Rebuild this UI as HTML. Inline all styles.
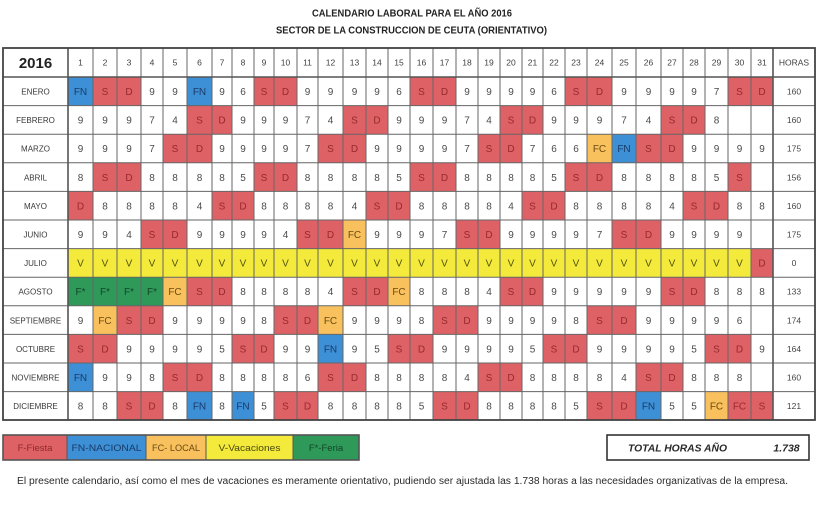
<!DOCTYPE html>
<html><head><meta charset="utf-8">
<style>
html,body{margin:0;padding:0;background:#fff;}
svg{display:block;font-family:"Liberation Sans",sans-serif;}
text{font-size:10px;text-anchor:middle;fill:#4a4a4a;}
text.m{font-size:8px;fill:#383838;}
text.h{font-size:8.5px;fill:#444;}
text.d{font-size:8.5px;fill:#404040;}
text.r{fill:#962a2d;}
text.b{fill:#1b3a66;}
text.o{fill:#6b4a12;}
text.y{fill:#55550f;}
text.g{fill:#124626;}
rect.r{fill:#de6165;}
rect.b{fill:#3d90d6;}
rect.o{fill:#f8c15d;}
rect.y{fill:#f4ea3b;}
rect.g{fill:#2f995a;}
</style></head><body>
<svg width="818" height="506" viewBox="0 0 818 506" xmlns="http://www.w3.org/2000/svg">
<rect x="0" y="0" width="818" height="506" fill="#fff"/>
<text x="412" y="16.5" style="font-size:10px;font-weight:bold;fill:#222" textLength="200" lengthAdjust="spacingAndGlyphs">CALENDARIO LABORAL PARA EL AÑO 2016</text>
<text x="411.5" y="33.5" style="font-size:10px;font-weight:bold;fill:#222" textLength="271" lengthAdjust="spacingAndGlyphs">SECTOR DE LA CONSTRUCCION DE CEUTA (ORIENTATIVO)</text>

<!-- header -->
<g transform="translate(0,48)">
<text x="35.5" y="20" style="font-size:15px;font-weight:bold;fill:#222">2016</text>
<text class="d" x="80.5" y="17.5">1</text><text class="d" x="105" y="17.5">2</text><text class="d" x="129" y="17.5">3</text><text class="d" x="152" y="17.5">4</text><text class="d" x="175" y="17.5">5</text><text class="d" x="199.5" y="17.5">6</text><text class="d" x="222" y="17.5">7</text><text class="d" x="243" y="17.5">8</text><text class="d" x="264" y="17.5">9</text><text class="d" x="285.5" y="17.5">10</text><text class="d" x="307.5" y="17.5">11</text><text class="d" x="330.5" y="17.5">12</text><text class="d" x="354.5" y="17.5">13</text><text class="d" x="377" y="17.5">14</text><text class="d" x="399" y="17.5">15</text><text class="d" x="421.5" y="17.5">16</text><text class="d" x="444.5" y="17.5">17</text><text class="d" x="467" y="17.5">18</text><text class="d" x="489" y="17.5">19</text><text class="d" x="511" y="17.5">20</text><text class="d" x="532.5" y="17.5">21</text><text class="d" x="554" y="17.5">22</text><text class="d" x="576" y="17.5">23</text><text class="d" x="599.5" y="17.5">24</text><text class="d" x="624" y="17.5">25</text><text class="d" x="648.5" y="17.5">26</text><text class="d" x="672" y="17.5">27</text><text class="d" x="694" y="17.5">28</text><text class="d" x="716.5" y="17.5">29</text><text class="d" x="739.5" y="17.5">30</text><text class="d" x="762" y="17.5">31</text>
<text class="d" x="794" y="17.5">HORAS</text>
</g>

<!-- ENERO -->
<g transform="translate(0,77)">
<rect class="b" x="68" y="0" width="25" height="28.6"/><rect class="r" x="93" y="0" width="48" height="28.6"/><rect class="b" x="187" y="0" width="25" height="28.6"/><rect class="r" x="254" y="0" width="43" height="28.6"/><rect class="r" x="410" y="0" width="46" height="28.6"/><rect class="r" x="565" y="0" width="47" height="28.6"/><rect class="r" x="728" y="0" width="45" height="28.6"/>
<text class="m" x="35.5" y="17.5">ENERO</text>
<text class="b" x="80.5" y="18">FN</text><text class="r" x="105" y="18">S</text><text class="r" x="129" y="18">D</text><text x="152" y="18">9</text><text x="175" y="18">9</text><text class="b" x="199.5" y="18">FN</text><text x="222" y="18">9</text><text x="243" y="18">6</text><text class="r" x="264" y="18">S</text><text class="r" x="285.5" y="18">D</text><text x="307.5" y="18">9</text><text x="330.5" y="18">9</text><text x="354.5" y="18">9</text><text x="377" y="18">9</text><text x="399" y="18">6</text><text class="r" x="421.5" y="18">S</text><text class="r" x="444.5" y="18">D</text><text x="467" y="18">9</text><text x="489" y="18">9</text><text x="511" y="18">9</text><text x="532.5" y="18">9</text><text x="554" y="18">6</text><text class="r" x="576" y="18">S</text><text class="r" x="599.5" y="18">D</text><text x="624" y="18">9</text><text x="648.5" y="18">9</text><text x="672" y="18">9</text><text x="694" y="18">9</text><text x="716.5" y="18">7</text><text class="r" x="739.5" y="18">S</text><text class="r" x="762" y="18">D</text>
<text class="h" x="794" y="17.5">160</text>
</g>

<!-- FEBRERO -->
<g transform="translate(0,105.6)">
<rect class="r" x="187" y="0" width="45" height="28.6"/><rect class="r" x="343" y="0" width="45" height="28.6"/><rect class="r" x="500" y="0" width="43" height="28.6"/><rect class="r" x="661" y="0" width="44" height="28.6"/>
<text class="m" x="35.5" y="17.5">FEBRERO</text>
<text x="80.5" y="18">9</text><text x="105" y="18">9</text><text x="129" y="18">9</text><text x="152" y="18">7</text><text x="175" y="18">4</text><text class="r" x="199.5" y="18">S</text><text class="r" x="222" y="18">D</text><text x="243" y="18">9</text><text x="264" y="18">9</text><text x="285.5" y="18">9</text><text x="307.5" y="18">7</text><text x="330.5" y="18">4</text><text class="r" x="354.5" y="18">S</text><text class="r" x="377" y="18">D</text><text x="399" y="18">9</text><text x="421.5" y="18">9</text><text x="444.5" y="18">9</text><text x="467" y="18">7</text><text x="489" y="18">4</text><text class="r" x="511" y="18">S</text><text class="r" x="532.5" y="18">D</text><text x="554" y="18">9</text><text x="576" y="18">9</text><text x="599.5" y="18">9</text><text x="624" y="18">7</text><text x="648.5" y="18">4</text><text class="r" x="672" y="18">S</text><text class="r" x="694" y="18">D</text><text x="716.5" y="18">8</text>
<text class="h" x="794" y="17.5">160</text>
</g>

<!-- MARZO -->
<g transform="translate(0,134.2)">
<rect class="r" x="163" y="0" width="49" height="28.6"/><rect class="r" x="318" y="0" width="48" height="28.6"/><rect class="r" x="478" y="0" width="44" height="28.6"/><rect class="o" x="587" y="0" width="25" height="28.6"/><rect class="b" x="612" y="0" width="24" height="28.6"/><rect class="r" x="636" y="0" width="47" height="28.6"/>
<text class="m" x="35.5" y="17.5">MARZO</text>
<text x="80.5" y="18">9</text><text x="105" y="18">9</text><text x="129" y="18">9</text><text x="152" y="18">7</text><text class="r" x="175" y="18">S</text><text class="r" x="199.5" y="18">D</text><text x="222" y="18">9</text><text x="243" y="18">9</text><text x="264" y="18">9</text><text x="285.5" y="18">9</text><text x="307.5" y="18">7</text><text class="r" x="330.5" y="18">S</text><text class="r" x="354.5" y="18">D</text><text x="377" y="18">9</text><text x="399" y="18">9</text><text x="421.5" y="18">9</text><text x="444.5" y="18">9</text><text x="467" y="18">7</text><text class="r" x="489" y="18">S</text><text class="r" x="511" y="18">D</text><text x="532.5" y="18">7</text><text x="554" y="18">6</text><text x="576" y="18">6</text><text class="o" x="599.5" y="18">FC</text><text class="b" x="624" y="18">FN</text><text class="r" x="648.5" y="18">S</text><text class="r" x="672" y="18">D</text><text x="694" y="18">9</text><text x="716.5" y="18">9</text><text x="739.5" y="18">9</text><text x="762" y="18">9</text>
<text class="h" x="794" y="17.5">175</text>
</g>

<!-- ABRIL -->
<g transform="translate(0,162.8)">
<rect class="r" x="93" y="0" width="48" height="28.6"/><rect class="r" x="254" y="0" width="43" height="28.6"/><rect class="r" x="410" y="0" width="46" height="28.6"/><rect class="r" x="565" y="0" width="47" height="28.6"/><rect class="r" x="728" y="0" width="23" height="28.6"/>
<text class="m" x="35.5" y="17.5">ABRIL</text>
<text x="80.5" y="18">8</text><text class="r" x="105" y="18">S</text><text class="r" x="129" y="18">D</text><text x="152" y="18">8</text><text x="175" y="18">8</text><text x="199.5" y="18">8</text><text x="222" y="18">8</text><text x="243" y="18">5</text><text class="r" x="264" y="18">S</text><text class="r" x="285.5" y="18">D</text><text x="307.5" y="18">8</text><text x="330.5" y="18">8</text><text x="354.5" y="18">8</text><text x="377" y="18">8</text><text x="399" y="18">5</text><text class="r" x="421.5" y="18">S</text><text class="r" x="444.5" y="18">D</text><text x="467" y="18">8</text><text x="489" y="18">8</text><text x="511" y="18">8</text><text x="532.5" y="18">8</text><text x="554" y="18">5</text><text class="r" x="576" y="18">S</text><text class="r" x="599.5" y="18">D</text><text x="624" y="18">8</text><text x="648.5" y="18">8</text><text x="672" y="18">8</text><text x="694" y="18">8</text><text x="716.5" y="18">5</text><text class="r" x="739.5" y="18">S</text>
<text class="h" x="794" y="17.5">156</text>
</g>

<!-- MAYO -->
<g transform="translate(0,191.4)">
<rect class="r" x="68" y="0" width="25" height="28.6"/><rect class="r" x="212" y="0" width="42" height="28.6"/><rect class="r" x="366" y="0" width="44" height="28.6"/><rect class="r" x="522" y="0" width="43" height="28.6"/><rect class="r" x="683" y="0" width="45" height="28.6"/>
<text class="m" x="35.5" y="17.5">MAYO</text>
<text class="r" x="80.5" y="18">D</text><text x="105" y="18">8</text><text x="129" y="18">8</text><text x="152" y="18">8</text><text x="175" y="18">8</text><text x="199.5" y="18">4</text><text class="r" x="222" y="18">S</text><text class="r" x="243" y="18">D</text><text x="264" y="18">8</text><text x="285.5" y="18">8</text><text x="307.5" y="18">8</text><text x="330.5" y="18">8</text><text x="354.5" y="18">4</text><text class="r" x="377" y="18">S</text><text class="r" x="399" y="18">D</text><text x="421.5" y="18">8</text><text x="444.5" y="18">8</text><text x="467" y="18">8</text><text x="489" y="18">8</text><text x="511" y="18">4</text><text class="r" x="532.5" y="18">S</text><text class="r" x="554" y="18">D</text><text x="576" y="18">8</text><text x="599.5" y="18">8</text><text x="624" y="18">8</text><text x="648.5" y="18">8</text><text x="672" y="18">4</text><text class="r" x="694" y="18">S</text><text class="r" x="716.5" y="18">D</text><text x="739.5" y="18">8</text><text x="762" y="18">8</text>
<text class="h" x="794" y="17.5">160</text>
</g>

<!-- JUNIO -->
<g transform="translate(0,220)">
<rect class="r" x="141" y="0" width="46" height="28.6"/><rect class="r" x="297" y="0" width="46" height="28.6"/><rect class="o" x="343" y="0" width="23" height="28.6"/><rect class="r" x="456" y="0" width="44" height="28.6"/><rect class="r" x="612" y="0" width="49" height="28.6"/>
<text class="m" x="35.5" y="17.5">JUNIO</text>
<text x="80.5" y="18">9</text><text x="105" y="18">9</text><text x="129" y="18">4</text><text class="r" x="152" y="18">S</text><text class="r" x="175" y="18">D</text><text x="199.5" y="18">9</text><text x="222" y="18">9</text><text x="243" y="18">9</text><text x="264" y="18">9</text><text x="285.5" y="18">4</text><text class="r" x="307.5" y="18">S</text><text class="r" x="330.5" y="18">D</text><text class="o" x="354.5" y="18">FC</text><text x="377" y="18">9</text><text x="399" y="18">9</text><text x="421.5" y="18">9</text><text x="444.5" y="18">7</text><text class="r" x="467" y="18">S</text><text class="r" x="489" y="18">D</text><text x="511" y="18">9</text><text x="532.5" y="18">9</text><text x="554" y="18">9</text><text x="576" y="18">9</text><text x="599.5" y="18">7</text><text class="r" x="624" y="18">S</text><text class="r" x="648.5" y="18">D</text><text x="672" y="18">9</text><text x="694" y="18">9</text><text x="716.5" y="18">9</text><text x="739.5" y="18">9</text>
<text class="h" x="794" y="17.5">175</text>
</g>

<!-- JULIO -->
<g transform="translate(0,248.6)">
<rect class="y" x="68" y="0" width="683" height="28.6"/><rect class="r" x="751" y="0" width="22" height="28.6"/>
<text class="m" x="35.5" y="17.5">JULIO</text>
<text class="y" x="80.5" y="18">V</text><text class="y" x="105" y="18">V</text><text class="y" x="129" y="18">V</text><text class="y" x="152" y="18">V</text><text class="y" x="175" y="18">V</text><text class="y" x="199.5" y="18">V</text><text class="y" x="222" y="18">V</text><text class="y" x="243" y="18">V</text><text class="y" x="264" y="18">V</text><text class="y" x="285.5" y="18">V</text><text class="y" x="307.5" y="18">V</text><text class="y" x="330.5" y="18">V</text><text class="y" x="354.5" y="18">V</text><text class="y" x="377" y="18">V</text><text class="y" x="399" y="18">V</text><text class="y" x="421.5" y="18">V</text><text class="y" x="444.5" y="18">V</text><text class="y" x="467" y="18">V</text><text class="y" x="489" y="18">V</text><text class="y" x="511" y="18">V</text><text class="y" x="532.5" y="18">V</text><text class="y" x="554" y="18">V</text><text class="y" x="576" y="18">V</text><text class="y" x="599.5" y="18">V</text><text class="y" x="624" y="18">V</text><text class="y" x="648.5" y="18">V</text><text class="y" x="672" y="18">V</text><text class="y" x="694" y="18">V</text><text class="y" x="716.5" y="18">V</text><text class="y" x="739.5" y="18">V</text><text class="r" x="762" y="18">D</text>
<text class="h" x="794" y="17.5">0</text>
</g>

<!-- AGOSTO -->
<g transform="translate(0,277.2)">
<rect class="g" x="68" y="0" width="95" height="28.6"/><rect class="o" x="163" y="0" width="24" height="28.6"/><rect class="r" x="187" y="0" width="45" height="28.6"/><rect class="r" x="343" y="0" width="45" height="28.6"/><rect class="o" x="388" y="0" width="22" height="28.6"/><rect class="r" x="500" y="0" width="43" height="28.6"/><rect class="r" x="661" y="0" width="44" height="28.6"/>
<text class="m" x="35.5" y="17.5">AGOSTO</text>
<text class="g" x="80.5" y="18">F*</text><text class="g" x="105" y="18">F*</text><text class="g" x="129" y="18">F*</text><text class="g" x="152" y="18">F*</text><text class="o" x="175" y="18">FC</text><text class="r" x="199.5" y="18">S</text><text class="r" x="222" y="18">D</text><text x="243" y="18">8</text><text x="264" y="18">8</text><text x="285.5" y="18">8</text><text x="307.5" y="18">8</text><text x="330.5" y="18">4</text><text class="r" x="354.5" y="18">S</text><text class="r" x="377" y="18">D</text><text class="o" x="399" y="18">FC</text><text x="421.5" y="18">8</text><text x="444.5" y="18">8</text><text x="467" y="18">8</text><text x="489" y="18">4</text><text class="r" x="511" y="18">S</text><text class="r" x="532.5" y="18">D</text><text x="554" y="18">9</text><text x="576" y="18">9</text><text x="599.5" y="18">9</text><text x="624" y="18">9</text><text x="648.5" y="18">9</text><text class="r" x="672" y="18">S</text><text class="r" x="694" y="18">D</text><text x="716.5" y="18">8</text><text x="739.5" y="18">8</text><text x="762" y="18">8</text>
<text class="h" x="794" y="17.5">133</text>
</g>

<!-- SEPTIEMBRE -->
<g transform="translate(0,305.8)">
<rect class="o" x="93" y="0" width="24" height="28.6"/><rect class="r" x="117" y="0" width="46" height="28.6"/><rect class="r" x="274" y="0" width="44" height="28.6"/><rect class="o" x="318" y="0" width="25" height="28.6"/><rect class="r" x="433" y="0" width="45" height="28.6"/><rect class="r" x="587" y="0" width="49" height="28.6"/>
<text class="m" x="35.5" y="17.5">SEPTIEMBRE</text>
<text x="80.5" y="18">9</text><text class="o" x="105" y="18">FC</text><text class="r" x="129" y="18">S</text><text class="r" x="152" y="18">D</text><text x="175" y="18">9</text><text x="199.5" y="18">9</text><text x="222" y="18">9</text><text x="243" y="18">9</text><text x="264" y="18">8</text><text class="r" x="285.5" y="18">S</text><text class="r" x="307.5" y="18">D</text><text class="o" x="330.5" y="18">FC</text><text x="354.5" y="18">9</text><text x="377" y="18">9</text><text x="399" y="18">9</text><text x="421.5" y="18">8</text><text class="r" x="444.5" y="18">S</text><text class="r" x="467" y="18">D</text><text x="489" y="18">9</text><text x="511" y="18">9</text><text x="532.5" y="18">9</text><text x="554" y="18">9</text><text x="576" y="18">8</text><text class="r" x="599.5" y="18">S</text><text class="r" x="624" y="18">D</text><text x="648.5" y="18">9</text><text x="672" y="18">9</text><text x="694" y="18">9</text><text x="716.5" y="18">9</text><text x="739.5" y="18">6</text>
<text class="h" x="794" y="17.5">174</text>
</g>

<!-- OCTUBRE -->
<g transform="translate(0,334.4)">
<rect class="r" x="68" y="0" width="49" height="28.6"/><rect class="r" x="232" y="0" width="42" height="28.6"/><rect class="b" x="318" y="0" width="25" height="28.6"/><rect class="r" x="388" y="0" width="45" height="28.6"/><rect class="r" x="543" y="0" width="44" height="28.6"/><rect class="r" x="705" y="0" width="46" height="28.6"/>
<text class="m" x="35.5" y="17.5">OCTUBRE</text>
<text class="r" x="80.5" y="18">S</text><text class="r" x="105" y="18">D</text><text x="129" y="18">9</text><text x="152" y="18">9</text><text x="175" y="18">9</text><text x="199.5" y="18">9</text><text x="222" y="18">5</text><text class="r" x="243" y="18">S</text><text class="r" x="264" y="18">D</text><text x="285.5" y="18">9</text><text x="307.5" y="18">9</text><text class="b" x="330.5" y="18">FN</text><text x="354.5" y="18">9</text><text x="377" y="18">5</text><text class="r" x="399" y="18">S</text><text class="r" x="421.5" y="18">D</text><text x="444.5" y="18">9</text><text x="467" y="18">9</text><text x="489" y="18">9</text><text x="511" y="18">9</text><text x="532.5" y="18">5</text><text class="r" x="554" y="18">S</text><text class="r" x="576" y="18">D</text><text x="599.5" y="18">9</text><text x="624" y="18">9</text><text x="648.5" y="18">9</text><text x="672" y="18">9</text><text x="694" y="18">5</text><text class="r" x="716.5" y="18">S</text><text class="r" x="739.5" y="18">D</text><text x="762" y="18">9</text>
<text class="h" x="794" y="17.5">164</text>
</g>

<!-- NOVIEMBRE -->
<g transform="translate(0,363)">
<rect class="b" x="68" y="0" width="25" height="28.6"/><rect class="r" x="163" y="0" width="49" height="28.6"/><rect class="r" x="318" y="0" width="48" height="28.6"/><rect class="r" x="478" y="0" width="44" height="28.6"/><rect class="r" x="636" y="0" width="47" height="28.6"/>
<text class="m" x="35.5" y="17.5">NOVIEMBRE</text>
<text class="b" x="80.5" y="18">FN</text><text x="105" y="18">9</text><text x="129" y="18">9</text><text x="152" y="18">8</text><text class="r" x="175" y="18">S</text><text class="r" x="199.5" y="18">D</text><text x="222" y="18">8</text><text x="243" y="18">8</text><text x="264" y="18">8</text><text x="285.5" y="18">8</text><text x="307.5" y="18">6</text><text class="r" x="330.5" y="18">S</text><text class="r" x="354.5" y="18">D</text><text x="377" y="18">8</text><text x="399" y="18">8</text><text x="421.5" y="18">8</text><text x="444.5" y="18">8</text><text x="467" y="18">4</text><text class="r" x="489" y="18">S</text><text class="r" x="511" y="18">D</text><text x="532.5" y="18">8</text><text x="554" y="18">8</text><text x="576" y="18">8</text><text x="599.5" y="18">8</text><text x="624" y="18">4</text><text class="r" x="648.5" y="18">S</text><text class="r" x="672" y="18">D</text><text x="694" y="18">8</text><text x="716.5" y="18">8</text><text x="739.5" y="18">8</text>
<text class="h" x="794" y="17.5">160</text>
</g>

<!-- DICIEMBRE -->
<g transform="translate(0,391.6)">
<rect class="r" x="117" y="0" width="46" height="28.6"/><rect class="b" x="187" y="0" width="25" height="28.6"/><rect class="b" x="232" y="0" width="22" height="28.6"/><rect class="r" x="274" y="0" width="44" height="28.6"/><rect class="r" x="433" y="0" width="45" height="28.6"/><rect class="r" x="587" y="0" width="49" height="28.6"/><rect class="b" x="636" y="0" width="25" height="28.6"/><rect class="o" x="705" y="0" width="23" height="28.6"/><rect class="r" x="728" y="0" width="45" height="28.6"/>
<text class="m" x="35.5" y="17.5">DICIEMBRE</text>
<text x="80.5" y="18">8</text><text x="105" y="18">8</text><text class="r" x="129" y="18">S</text><text class="r" x="152" y="18">D</text><text x="175" y="18">8</text><text class="b" x="199.5" y="18">FN</text><text x="222" y="18">8</text><text class="b" x="243" y="18">FN</text><text x="264" y="18">5</text><text class="r" x="285.5" y="18">S</text><text class="r" x="307.5" y="18">D</text><text x="330.5" y="18">8</text><text x="354.5" y="18">8</text><text x="377" y="18">8</text><text x="399" y="18">8</text><text x="421.5" y="18">5</text><text class="r" x="444.5" y="18">S</text><text class="r" x="467" y="18">D</text><text x="489" y="18">8</text><text x="511" y="18">8</text><text x="532.5" y="18">8</text><text x="554" y="18">8</text><text x="576" y="18">5</text><text class="r" x="599.5" y="18">S</text><text class="r" x="624" y="18">D</text><text class="b" x="648.5" y="18">FN</text><text x="672" y="18">5</text><text x="694" y="18">5</text><text class="o" x="716.5" y="18">FC</text><text class="r" x="739.5" y="18">FC</text><text class="r" x="762" y="18">S</text>
<text class="h" x="794" y="17.5">121</text>
</g>

<!-- grid -->
<path fill="none" stroke="#666" stroke-width="1" d="
M93 48V420 M117 48V420 M141 48V420 M163 48V420 M187 48V420 M212 48V420 M232 48V420 M254 48V420 M274 48V420 M297 48V420 M318 48V420 M343 48V420 M366 48V420 M388 48V420 M410 48V420 M433 48V420 M456 48V420 M478 48V420 M500 48V420 M522 48V420 M543 48V420 M565 48V420 M587 48V420 M612 48V420 M636 48V420 M661 48V420 M683 48V420 M705 48V420 M728 48V420 M751 48V420
M3 105.6H815 M3 134.2H815 M3 162.8H815 M3 191.4H815 M3 220H815 M3 248.6H815 M3 277.2H815 M3 305.8H815 M3 334.4H815 M3 363H815 M3 391.6H815"/>
<path fill="none" stroke="#555" stroke-width="1.6" d="M68 48V420 M773 48V420 M3 77H815"/>
<rect x="3" y="48" width="812" height="372" fill="none" stroke="#444" stroke-width="1.8"/>

<!-- legend -->
<rect x="3" y="435" width="64" height="25" fill="#de6165"/>
<rect x="67" y="435" width="79" height="25" fill="#3d90d6"/>
<rect x="146" y="435" width="60" height="25" fill="#f8c15d"/>
<rect x="206" y="435" width="87" height="25" fill="#f4ea3b"/>
<rect x="293" y="435" width="66" height="25" fill="#2f995a"/>
<path fill="none" stroke="#555" stroke-width="1" d="M67 435V460 M146 435V460 M206 435V460 M293 435V460"/>
<rect x="3" y="435" width="356" height="25" fill="none" stroke="#555" stroke-width="1.6"/>
<text x="35" y="451" style="font-size:9.5px;fill:#8e2a2d">F-Fiesta</text>
<text x="106.5" y="451" style="font-size:9.5px;fill:#1b3a66" textLength="70" lengthAdjust="spacingAndGlyphs">FN-NACIONAL</text>
<text x="176" y="451" style="font-size:9.5px;fill:#6b4a12" textLength="48" lengthAdjust="spacingAndGlyphs">FC- LOCAL</text>
<text x="249.5" y="451" style="font-size:9.5px;fill:#4a4a10" textLength="62" lengthAdjust="spacingAndGlyphs">V-Vacaciones</text>
<text x="326" y="451" style="font-size:9.5px;fill:#124626">F*-Feria</text>

<!-- total -->
<rect x="607" y="435" width="202" height="25" fill="#fff" stroke="#333" stroke-width="1.6"/>
<text x="677.5" y="451.5" style="font-size:10.5px;font-weight:bold;font-style:italic;fill:#2a2a2a" textLength="99" lengthAdjust="spacingAndGlyphs">TOTAL HORAS AÑO</text>
<text x="786.5" y="451.5" style="font-size:10.5px;font-weight:bold;font-style:italic;fill:#2a2a2a">1.738</text>

<!-- footnote -->
<text x="402.5" y="484" style="font-size:10px;fill:#2a2a2a" textLength="771" lengthAdjust="spacingAndGlyphs">El presente calendario, así como el mes de vacaciones es meramente orientativo, pudiendo ser ajustada las 1.738 horas a las necesidades organizativas de la empresa.</text>
</svg>
</body></html>
